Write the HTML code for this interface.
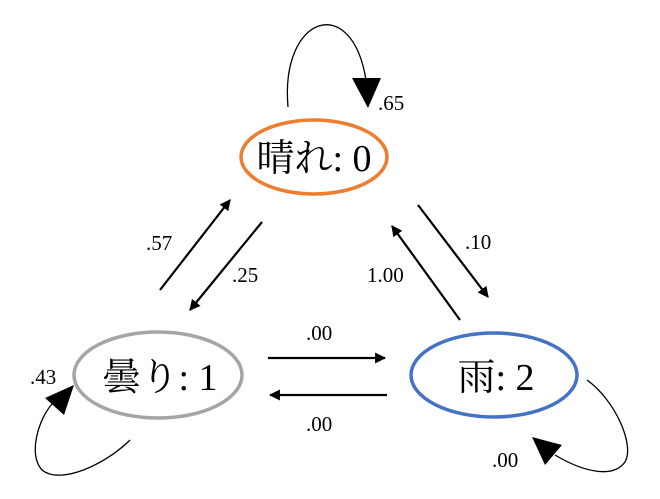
<!DOCTYPE html>
<html><head><meta charset="utf-8"><style>body{margin:0;background:#fff}svg{display:block}</style></head>
<body>
<svg width="660" height="499" viewBox="0 0 660 499" xmlns="http://www.w3.org/2000/svg">
<defs>
<marker id="a" viewBox="0 0 10 10" refX="9" refY="5" markerWidth="5" markerHeight="5" orient="auto"><path d="M0,0 L10,5 L0,10 z" fill="#000"/></marker>
</defs>
<g fill="none" stroke-width="3.5">
<ellipse cx="314" cy="157" rx="73" ry="37" stroke="#ED7D31"/>
<ellipse cx="158" cy="375" rx="84" ry="43" stroke="#A5A5A5"/>
<ellipse cx="494" cy="375" rx="83" ry="42" stroke="#4472C4"/>
</g>
<g font-family="Liberation Serif, Noto Serif CJK SC, serif" font-size="38" text-anchor="middle" fill="#000">
<text x="314" y="171">晴れ: 0</text>
<text x="160" y="390">曇り: 1</text>
<text x="496" y="390">雨: 2</text>
</g>
<g stroke="#000" fill="none">
<path d="M288,107 C280,15 352,-8 366,80" stroke-width="1.3"/>
<path d="M130,440 C105,465 60,485 42,470 C28,455 38,420 52,404" stroke-width="1.3"/>
<path d="M587,380 C615,400 635,445 625,462 C612,480 580,470 555,455" stroke-width="1.3"/>
<g stroke-width="2.2" marker-end="url(#a)">
<line x1="268" y1="358" x2="385" y2="358"/>
<line x1="387" y1="395" x2="270" y2="395"/>
<line x1="160" y1="290" x2="230" y2="200"/>
<line x1="262" y1="222" x2="190" y2="310"/>
<line x1="418" y1="205" x2="488" y2="297"/>
<line x1="460" y1="320" x2="392" y2="226"/>
</g>
</g>
<g fill="#000">
<polygon points="352,78 381,78 368,108"/>
<polygon points="74,385 45,398 64,415"/>
<polygon points="532,437 545,465 562,445"/>
</g>
<g font-family="Liberation Serif, serif" font-size="21" fill="#000">
<text x="378" y="110">.65</text>
<text x="146" y="250">.57</text>
<text x="232" y="282">.25</text>
<text x="465" y="249">.10</text>
<text x="367" y="282">1.00</text>
<text x="306" y="340">.00</text>
<text x="306" y="431">.00</text>
<text x="30" y="384">.43</text>
<text x="492" y="467">.00</text>
</g>
</svg>
</body></html>
